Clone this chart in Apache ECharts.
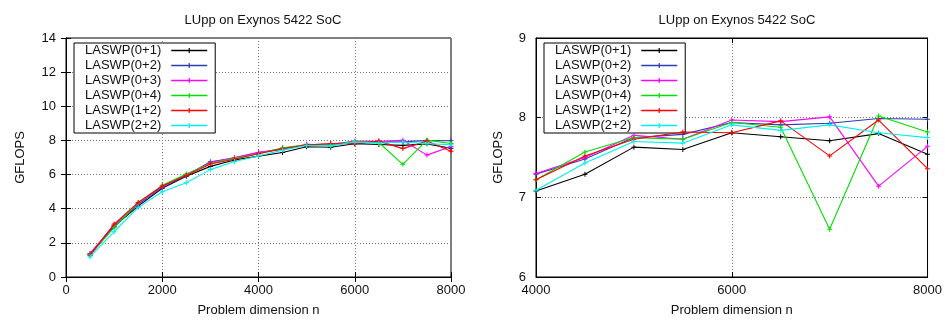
<!DOCTYPE html>
<html>
<head>
<meta charset="utf-8">
<script src="https://cdn.jsdelivr.net/npm/echarts@6/dist/echarts.min.js"></script>
<style>
html,body{margin:0;padding:0;background:#fff;}
#c{width:945px;height:322px;}
</style>
</head>
<body>
<div id="c"></div>
<script>
// ---- data ----
const dims = [500, 1000, 1500, 2000, 2500, 3000, 3500, 4000, 4500, 5000, 5500, 6000, 6500, 7000, 7500, 8000];
const seriesNames = ['LASWP(0+1)', 'LASWP(0+2)', 'LASWP(0+3)', 'LASWP(0+4)', 'LASWP(1+2)', 'LASWP(2+2)'];
const laswp01 = [1.30, 2.97, 4.15, 5.20, 5.90, 6.48, 6.85, 7.08, 7.29, 7.63, 7.60, 7.81, 7.76, 7.71, 7.80, 7.54];
const laswp02 = [1.38, 3.00, 4.25, 5.25, 5.95, 6.75, 6.97, 7.29, 7.48, 7.75, 7.79, 7.94, 7.91, 7.93, 7.99, 7.98];
const laswp03 = [1.35, 3.05, 4.30, 5.30, 6.00, 6.70, 7.00, 7.30, 7.50, 7.78, 7.73, 7.97, 7.95, 8.01, 7.14, 7.64];
const laswp04 = [1.30, 2.90, 4.35, 5.37, 6.04, 6.65, 6.95, 7.22, 7.57, 7.75, 7.73, 7.94, 7.88, 6.60, 8.02, 7.82];
const laswp12 = [1.28, 3.10, 4.37, 5.33, 5.95, 6.62, 6.90, 7.22, 7.52, 7.73, 7.82, 7.81, 7.96, 7.52, 7.97, 7.36];
const laswp22 = [1.19, 2.65, 4.08, 4.99, 5.52, 6.29, 6.77, 7.09, 7.43, 7.70, 7.68, 7.91, 7.84, 7.91, 7.81, 7.75];
const titleText = 'LUpp on Exynos 5422 SoC';
const xName = 'Problem dimension n';
const yName = 'GFLOPS';
const leftX = {min: 0, max: 8000, interval: 2000};
const leftY = {min: 0, max: 14, interval: 2};
const rightX = {min: 4000, max: 8000, interval: 2000};
const rightY = {min: 6, max: 9, interval: 1};

const allValues = [laswp01, laswp02, laswp03, laswp04, laswp12, laswp22];
const colors = ['#000000', '#2a3fae', '#ff00ff', '#00e000', '#ff0000', '#00f0f0'];
const FONT = 'Liberation Sans, Arial, sans-serif';
const plus = 'path://M2,0H3V2H5V3H3V5H2V3H0V2H2Z';
const legendIcon = 'path://M0,1.75H36V3.25H0Z M17.4,0H18.6V5H17.4Z';

const grids = [
  {left: 66, top: 38, width: 385, height: 244, show: true, borderColor: '#000', borderWidth: 1, backgroundColor: 'transparent'},
  {left: 536, top: 38, width: 393, height: 244, show: true, borderColor: '#000', borderWidth: 1, backgroundColor: 'transparent'}
];

function plain(v) { return String(v); }

function mainX(gi, r) {
  return {
    type: 'value', gridIndex: gi, min: r.min, max: r.max, interval: r.interval, position: 'bottom',
    name: xName, nameLocation: 'middle', nameGap: 27,
    nameTextStyle: {fontFamily: FONT, fontSize: 13, color: '#111'},
    axisLine: {show: true, lineStyle: {color: '#000', width: 1}},
    axisTick: {show: true, inside: true, length: 5, lineStyle: {color: '#000'}},
    axisLabel: {fontFamily: FONT, fontSize: 13, color: '#111', margin: 7, formatter: plain},
    splitLine: {show: true, lineStyle: {type: [1, 2], color: '#777', width: 1}}
  };
}
function mirrorX(gi, r) {
  return {
    type: 'value', gridIndex: gi, min: r.min, max: r.max, interval: r.interval, position: 'top',
    axisLine: {show: true, lineStyle: {color: '#000', width: 1}},
    axisTick: {show: true, inside: true, length: 5, lineStyle: {color: '#000'}},
    axisLabel: {show: false}, splitLine: {show: false}
  };
}
function mainY(gi, r, gap) {
  return {
    type: 'value', gridIndex: gi, min: r.min, max: r.max, interval: r.interval, position: 'left',
    name: yName, nameLocation: 'middle', nameGap: gap,
    nameTextStyle: {fontFamily: FONT, fontSize: 13, color: '#111'},
    axisLine: {show: true, lineStyle: {color: '#000', width: 1}},
    axisTick: {show: true, inside: true, length: 5, lineStyle: {color: '#000'}},
    axisLabel: {fontFamily: FONT, fontSize: 13, color: '#111', margin: 10, formatter: plain},
    splitLine: {show: true, lineStyle: {type: [1, 2], color: '#777', width: 1}}
  };
}
function mirrorY(gi, r) {
  return {
    type: 'value', gridIndex: gi, min: r.min, max: r.max, interval: r.interval, position: 'right',
    axisLine: {show: true, lineStyle: {color: '#000', width: 1}},
    axisTick: {show: true, inside: true, length: 5, lineStyle: {color: '#000'}},
    axisLabel: {show: false}, splitLine: {show: false}
  };
}

const series = [];
[0, 1].forEach(function (gi) {
  const xmin = gi === 0 ? leftX.min : rightX.min;
  seriesNames.forEach(function (nm, si) {
    const pts = [];
    dims.forEach(function (d, k) { if (d >= xmin) pts.push([d, allValues[si][k]]); });
    series.push({
      type: 'line', name: nm, xAxisIndex: gi * 2, yAxisIndex: gi * 2,
      data: pts, symbol: plus, symbolSize: 5, showSymbol: true,
      color: colors[si],
      lineStyle: {width: 1.1, color: colors[si]},
      itemStyle: {color: colors[si]},
      animation: false, z: 2 + si
    });
  });
});

function legend(left) {
  return {
    data: seriesNames.map(function (n) { return {name: n, icon: legendIcon}; }),
    orient: 'vertical', align: 'right', left: left, top: 43,
    itemWidth: 36, itemHeight: 5, itemGap: 2, padding: [1, 8, 1, 11],
    borderColor: '#000', borderWidth: 1, backgroundColor: '#fff',
    textStyle: {fontFamily: FONT, fontSize: 13, color: '#111', lineHeight: 13, padding: [0, 5, 0, 0]},
    selectedMode: false
  };
}

const option = {
  backgroundColor: '#fff',
  animation: false,
  title: [
    {text: titleText, left: 258, top: 9, textAlign: 'center', textStyle: {fontFamily: FONT, fontSize: 13, fontWeight: 'normal', color: '#111'}},
    {text: titleText, left: 732, top: 9, textAlign: 'center', textStyle: {fontFamily: FONT, fontSize: 13, fontWeight: 'normal', color: '#111'}}
  ],
  grid: grids,
  xAxis: [mainX(0, leftX), mirrorX(0, leftX), mainX(1, rightX), mirrorX(1, rightX)],
  yAxis: [mainY(0, leftY, 39), mirrorY(0, leftY), mainY(1, rightY, 31), mirrorY(1, rightY)],
  legend: [legend(74), legend(544)],
  series: series
};
const chart = echarts.init(document.getElementById('c'));
chart.setOption(option);
</script>
</body>
</html>
